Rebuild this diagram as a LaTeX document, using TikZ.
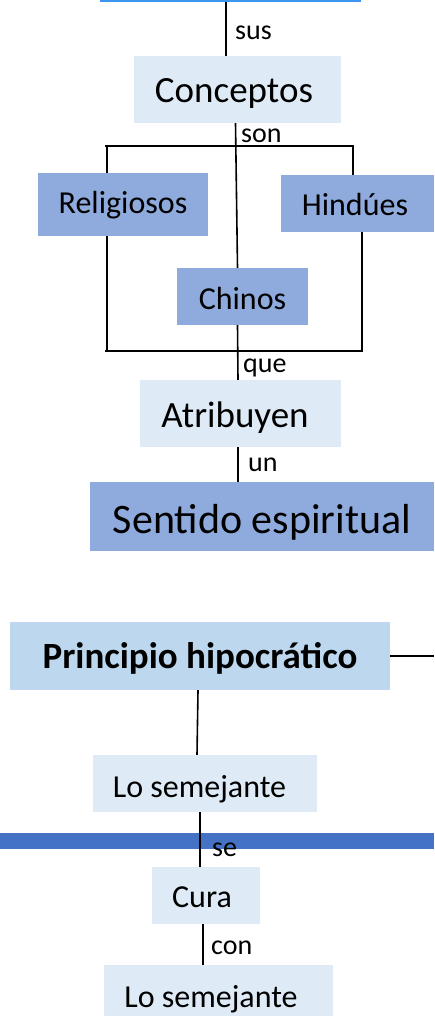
\documentclass[tikz,border=0pt]{standalone}
\usepackage{fontspec}
\setmainfont{Carlito}
\usepackage{tikz}
\definecolor{claro}{RGB}{222,235,247}
\definecolor{medio}{RGB}{143,170,220}
\definecolor{principal}{RGB}{189,215,238}
\definecolor{franja}{RGB}{68,114,196}
\definecolor{borde}{RGB}{60,150,240}

\begin{document}
\begin{tikzpicture}[x=1pt,y=-1pt,
  caja/.style={rectangle,inner sep=0pt,text=black,text height=25pt,text depth=0pt},
  claro/.style={caja,fill=claro},
  medio/.style={caja,fill=medio},
  enlace/.style={anchor=base west,inner sep=0pt,font=\fontsize{28}{30}\selectfont},
  linea/.style={line width=1.6pt}]
\useasboundingbox (0,0) rectangle (434,1016);
%% franjas
\fill[borde] (100,0) rectangle (361,2.5);
\fill[franja] (0,833) rectangle (434,849);
%% cajas
\node[claro,minimum width=207pt,minimum height=67pt,text height=27pt,font=\fontsize{37}{40}\selectfont] (conceptos) at (237.5,89.5) {Conceptos\hspace*{7pt}};
\node[medio,minimum width=170pt,minimum height=63pt,text height=17.6pt,font=\fontsize{32}{34}\selectfont] (religiosos) at (123,204.5) {Religiosos};
\node[medio,minimum width=153pt,minimum height=57pt,font=\fontsize{32}{34}\selectfont] (hindues) at (357.5,203.5) {Hindúes\hspace*{5pt}};
\node[medio,minimum width=131pt,minimum height=57pt,font=\fontsize{32}{34}\selectfont] (chinos) at (242.5,296.5) {Chinos};
\node[claro,minimum width=201pt,minimum height=67pt,text height=27pt,font=\fontsize{37}{40}\selectfont] (atribuyen) at (240.5,413.5) {Atribuyen\hspace*{11pt}};
\node[medio,minimum width=344pt,minimum height=69pt,text height=33pt,font=\fontsize{42}{44}\selectfont] (sentido) at (262,516.5) {Sentido espiritual};
\node[caja,fill=principal,minimum width=380pt,minimum height=68pt,text height=24pt,font=\fontsize{37}{40}\selectfont\bfseries] (principio) at (200,656) {Principio hipocrático};
\node[claro,minimum width=224pt,minimum height=57pt,text height=27pt,font=\fontsize{32}{34}\selectfont] (semejante) at (205,783.5) {Lo semejante\hspace*{11pt}};
\node[claro,minimum width=108pt,minimum height=57pt,text height=23pt,font=\fontsize{32}{34}\selectfont] (cura) at (206,895.5) {Cura\hspace*{8pt}};
\node[claro,minimum width=229pt,minimum height=57pt,text height=27pt,font=\fontsize{32}{34}\selectfont] (semejante2) at (218.5,993.5) {Lo semejante\hspace*{15pt}};
%% palabras de enlace
\node[enlace] (lsus) at (235,40) {sus};
\node[enlace] (lson) at (241,143) {son};
\node[enlace] (lque) at (243,372) {que};
\node[enlace] (lun) at (248,471) {un};
\node[enlace] (lse) at (212,856) {se};
\node[enlace] (lcon) at (211,954) {con};
%% esquinas del marco
\coordinate (arriba) at (226,2);
\coordinate (tl) at (107,146);
\coordinate (tr) at (353,146);
\coordinate (bl) at (107,351);
\coordinate (br) at (362,351);
\coordinate (derecha) at (434,656);
%% lineas
\draw[linea] (arriba) -- (arriba |- conceptos.north);
\draw[linea] ([xshift=-2pt]conceptos.south) -- ([xshift=-5pt]chinos.north);
\draw[linea] ([xshift=-2pt]tl) -- ([xshift=1pt]tr);
\draw[linea] (tl) -- (tl |- religiosos.north);
\draw[linea] (tl |- religiosos.south) -- (bl);
\draw[linea] (tr) -- (tr |- hindues.north);
\draw[linea] (br |- hindues.south) -- (br);
\draw[linea] ([xshift=-2pt]bl) -- ([xshift=1pt]br);
\draw[linea] ([xshift=-5pt]chinos.south) -- ([xshift=-2.5pt]atribuyen.north);
\draw[linea] ([xshift=-2.5pt]atribuyen.south) -- ([xshift=-2.5pt]atribuyen.south |- sentido.north);
\draw[linea] (principio.east) -- (derecha);
\draw[linea] ([xshift=-2pt]principio.south) -- ([xshift=-8pt]semejante.north);
\draw[linea] ([xshift=-5pt]semejante.south) -- ([xshift=-6pt]cura.north);
\draw[linea] ([xshift=-3pt]cura.south) -- ([xshift=-15.5pt]semejante2.north);

\end{tikzpicture}
\end{document}
